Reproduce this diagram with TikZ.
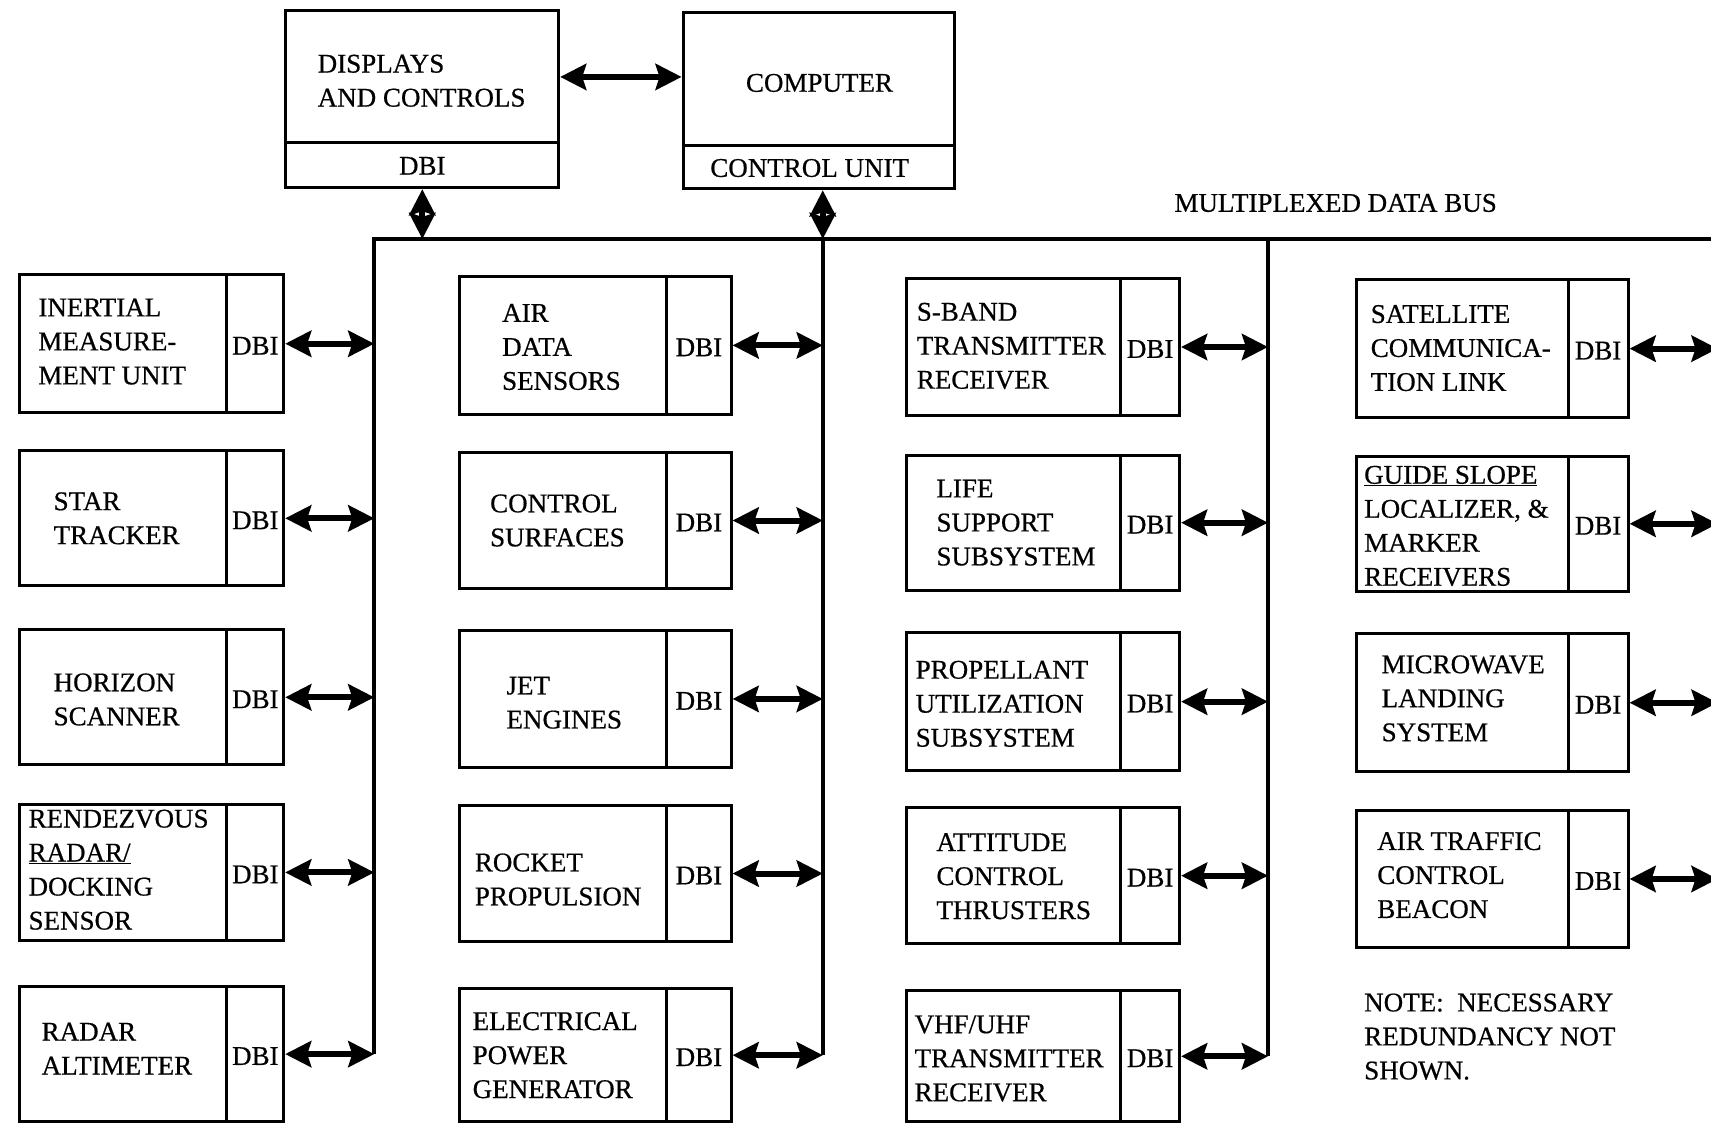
\documentclass[tikz,border=0pt]{standalone}
\usepackage{fontspec}
\setmainfont{Liberation Serif}
\newfontfamily\typfont{Liberation Serif}[FakeBold=0.6]
\usetikzlibrary{arrows.meta,fit}
\newcommand\fsz{\typfont\fontsize{27}{34}\selectfont}
\tikzset{
 blk/.style={draw, line width=3pt, inner sep=0pt},
 lbl/.style={anchor=west, align=left, inner sep=0pt, font=\fsz},
 plain/.style={inner sep=0pt, font=\fsz},
 dar/.style={line width=6pt, {Stealth[length=26pt,width=26pt,inset=4pt]}-{Stealth[length=26pt,width=26pt,inset=4pt]}},
 bus/.style={line width=4pt, line cap=butt, line join=miter},
}
% name, x1, y1, xdiv, x2, y2, textx, texty, text
\newcommand\mkunit[9]{%
  \node[blk, fit={(#2,#3)(#4,#6)}] (#1) {};
  \node[blk, fit={(#4,#3)(#5,#6)}] (d#1) {};
  \node[plain] (l#1) at ([yshift=-2pt]d#1.center) {DBI};
  \node[lbl] (t#1) at (#7,#8) {#9};
}
\begin{document}
\begin{tikzpicture}[x=1.0912pt, y=-1.0912pt]
\useasboundingbox (0,0) rectangle (1568,1030);
% top boxes
\node[blk, fit={(262,10)(512,131)}] (dc) {};
\node[blk, fit={(262,131)(512,172)}] (dcd) {};
\node[plain] (dcdl) at (387,152) {DBI};
\node[lbl] (dct) at (291,74) {DISPLAYS\\AND CONTROLS};
\node[blk, fit={(626,11)(875,133)}] (cp) {};
\node[plain] (cpl) at (751,76) {COMPUTER};
\node[blk, fit={(626,133)(875,173)}] (cpu) {};
\node[plain] (cpul) at (742,154) {CONTROL UNIT};
% bus
\coordinate (bA) at (343,219);
\coordinate (bB) at (754,219);
\coordinate (bC) at (1162,219);
\coordinate (bD) at (1574,219);
\coordinate (bAe) at (343,966);
\coordinate (bBe) at (754,967);
\coordinate (bCe) at (1162,968);
\draw[bus] (bAe) -- (bA) -- (bD);
\draw[bus] (bB) -- (bBe);
\draw[bus] (bC) -- (bCe);
\node[plain] (busl) at (1224,186) {MULTIPLEXED DATA BUS};
% top connectors
\draw[dar] (dc.east) -- (dc.east -| cp.west);
\draw[dar] (dcd.south) -- (dcd.south |- bA);
\draw[dar] (bB |- cpu.south) -- (bB);
% column 1
\mkunit{i1}{18}{252}{208}{260}{378}{35}{313}{INERTIAL\\MEASURE-\\MENT UNIT}
\mkunit{i2}{18}{413}{208}{260}{537}{49}{475}{STAR\\TRACKER}
\mkunit{i3}{18}{577}{208}{260}{701}{49}{641}{HORIZON\\SCANNER}
\mkunit{i4}{18}{737}{208}{260}{862}{26}{797}{RENDEZVOUS\\\underline{RADAR/}\\DOCKING\\SENSOR}
\mkunit{i5}{18}{904}{208}{260}{1028}{38}{961}{RADAR\\ALTIMETER}
% column 2
\mkunit{a1}{421}{253}{611}{670}{380}{460}{318}{AIR\\DATA\\SENSORS}
\mkunit{a2}{421}{415}{611}{670}{539}{449}{477}{CONTROL\\SURFACES}
\mkunit{a3}{421}{578}{611}{670}{703}{464}{644}{JET\\ENGINES}
\mkunit{a4}{421}{738}{611}{670}{863}{435}{806}{ROCKET\\PROPULSION}
\mkunit{a5}{421}{906}{611}{670}{1028}{433}{967}{ELECTRICAL\\POWER\\GENERATOR}
% column 3
\mkunit{s1}{831}{255}{1027}{1081}{381}{840}{317}{S-BAND\\TRANSMITTER\\RECEIVER}
\mkunit{s2}{831}{417}{1027}{1081}{541}{858}{479}{LIFE\\SUPPORT\\SUBSYSTEM}
\mkunit{s3}{831}{580}{1027}{1081}{706}{839}{645}{PROPELLANT\\UTILIZATION\\SUBSYSTEM}
\mkunit{s4}{831}{740}{1027}{1081}{865}{858}{803}{ATTITUDE\\CONTROL\\THRUSTERS}
\mkunit{s5}{831}{908}{1027}{1081}{1028}{838}{970}{VHF/UHF\\TRANSMITTER\\RECEIVER}
% column 4
\mkunit{g1}{1243}{256}{1437}{1492}{383}{1256}{319}{SATELLITE\\COMMUNICA-\\TION LINK}
\mkunit{g2}{1243}{418}{1437}{1492}{542}{1250}{482}{\underline{GUIDE SLOPE}\\LOCALIZER, \&\\MARKER\\RECEIVERS}
\mkunit{g3}{1243}{581}{1437}{1492}{707}{1266}{640}{MICROWAVE\\LANDING\\SYSTEM}
\mkunit{g4}{1243}{743}{1437}{1492}{868}{1262}{802}{AIR TRAFFIC\\CONTROL\\BEACON}
% connectors
\foreach \n in {i1,i2,i3,i4,i5} \draw[dar] (d\n.east) -- (d\n.east -| bA);
\foreach \n in {a1,a2,a3,a4,a5} \draw[dar] (d\n.east) -- (d\n.east -| bB);
\foreach \n in {s1,s2,s3,s4,s5} \draw[dar] (d\n.east) -- (d\n.east -| bC);
\foreach \n in {g1,g2,g3,g4} \draw[dar] (d\n.east) -- (d\n.east -| bD);
% note
\node[lbl] (note) at (1250,950) {NOTE:\ \ NECESSARY\\REDUNDANCY NOT\\SHOWN.};
\end{tikzpicture}
\end{document}
